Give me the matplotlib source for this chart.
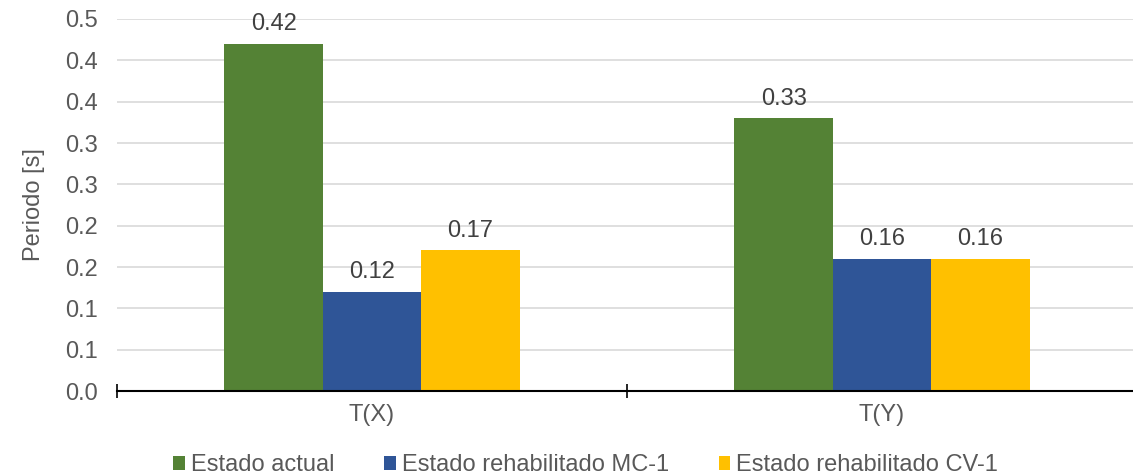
import numpy as np
import matplotlib.pyplot as plt

plt.rcParams['font.family'] = ['Liberation Sans', 'DejaVu Sans']

categories = ['T(X)', 'T(Y)']
series_names = ['Estado actual', 'Estado rehabilitado MC-1', 'Estado rehabilitado CV-1']
estado_actual = [0.42, 0.33]
rehab_mc1 = [0.12, 0.16]
rehab_cv1 = [0.17, 0.16]
y_ticks = [0.0, 0.05, 0.10, 0.15, 0.20, 0.25, 0.30, 0.35, 0.40, 0.45]
y_tick_labels = ['0.0', '0.1', '0.1', '0.2', '0.2', '0.3', '0.3', '0.4', '0.4', '0.5']

colors = ['#548235', '#2F5597', '#FFC000']
series = [estado_actual, rehab_mc1, rehab_cv1]
fs = 17

fig = plt.figure(figsize=(11.33, 4.76), dpi=100)
ax = fig.add_axes([117 / 1133, 1 - 391 / 476, 1020 / 1133, 372 / 476])

x = np.arange(len(categories))
w = 0.193
for i, (vals, name, col) in enumerate(zip(series, series_names, colors)):
    bars = ax.bar(x + (i - 1) * w, vals, w, color=col, label=name, zorder=3)
    ax.bar_label(bars, labels=[f'{v:.2f}' for v in vals], padding=6,
                 fontsize=fs, color='#404040')

ax.set_xlim(-0.5, 1.5)
ax.set_ylim(0, 0.45)
ax.set_yticks(y_ticks)
ax.set_yticklabels(y_tick_labels)
ax.yaxis.grid(True, color='#d9d9d9', linewidth=1.2, zorder=0)
ax.tick_params(axis='y', length=0, labelsize=fs, labelcolor='#595959', pad=14)

ax.set_xticks(x)
ax.set_xticklabels(categories)
ax.set_xticks([-0.5, 0.5, 1.5], minor=True)
ax.tick_params(axis='x', which='major', length=0, labelsize=fs,
               labelcolor='#595959', pad=9)
ax.tick_params(axis='x', which='minor', direction='inout', length=10,
               width=1.2, color='black')

for side in ['left', 'right', 'top']:
    ax.spines[side].set_visible(False)
ax.spines['bottom'].set_color('black')
ax.spines['bottom'].set_linewidth(1.5)
ax.spines['bottom'].set_zorder(4)

ax.set_ylabel('Periodo [s]', fontsize=fs, color='#595959', labelpad=14)

fig.legend(loc='lower center', bbox_to_anchor=(0.517, -0.045), ncol=3,
           frameon=False, fontsize=fs, handlelength=0.5, handleheight=0.5,
           handletextpad=0.25, columnspacing=2.1, labelcolor='#595959')

fig.savefig('out.png', dpi=100)
